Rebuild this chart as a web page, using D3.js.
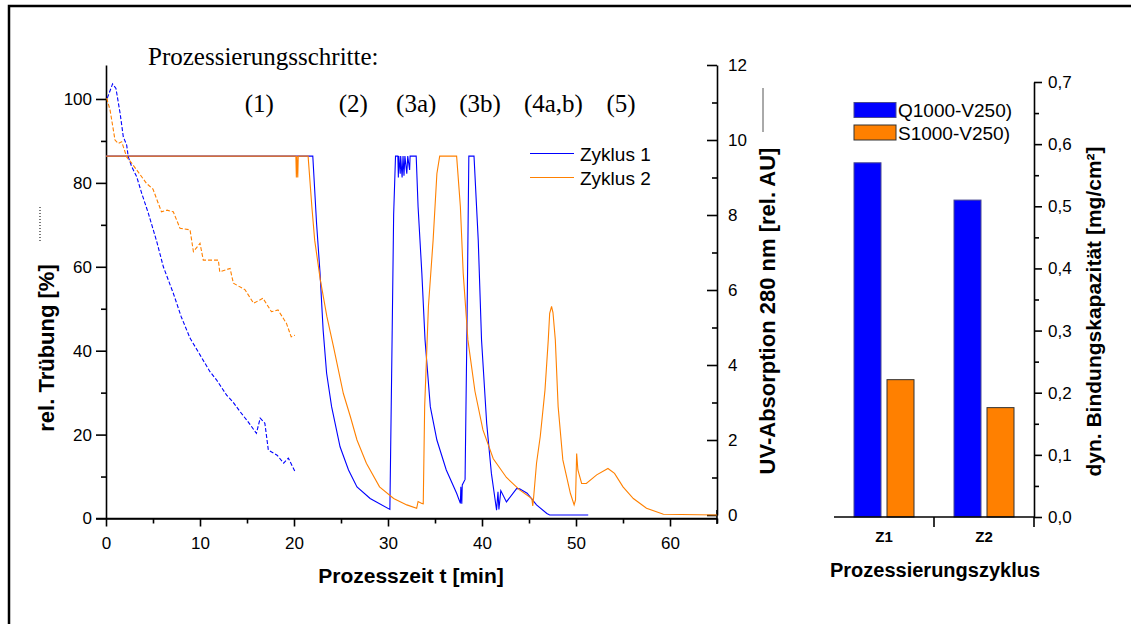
<!DOCTYPE html>
<html>
<head>
<meta charset="utf-8">
<script src="https://cdn.jsdelivr.net/npm/d3@7"></script>
<style>
  body { margin: 0; background: #fff; }
  svg { display: block; }
  .tick text { font-family: Arial, "Liberation Sans", sans-serif; }
</style>
</head>
<body>
<div id="plot"></div>
<script>
// Prozesszeit [min], UV-Absorption [rel. AU]
const uvZyklus1 = [
  [0, 9.57], [22.0, 9.57], [22.4, 7.78], [22.77, 6.45], [23.1, 4.93], [23.47, 3.78], [24.0, 2.89],
  [24.9, 1.82], [25.8, 1.2], [26.7, 0.75], [28.1, 0.44], [30.2, 0.15], [30.4, 4.0], [30.6, 8.0],
  [30.8, 9.57], [31.05, 9.57], [31.1, 9.0], [31.15, 9.57], [31.3, 9.1], [31.35, 9.57], [31.5, 9.0],
  [31.6, 9.57], [31.7, 9.05], [31.8, 9.57], [32.0, 9.1], [32.1, 9.57], [32.3, 9.2], [32.35, 9.57],
  [33.0, 9.57], [33.2, 8.22], [33.6, 6.45], [33.94, 4.67], [34.5, 2.89], [35.2, 2.0], [36.2, 1.2],
  [37.3, 0.58], [37.7, 0.31], [37.75, 0.75], [37.85, 0.3], [37.9, 0.8], [38.2, 0.95], [38.4, 5.0],
  [38.6, 9.57], [39.15, 9.57], [39.6, 7.33], [39.95, 4.67], [40.5, 2.44], [41.0, 1.11], [41.55, 0.13],
  [41.7, 0.62], [41.8, 0.15], [42.0, 0.65], [42.6, 0.35], [43.7, 0.71], [44.0, 0.7], [44.8, 0.58],
  [45.8, 0.27], [46.9, 0.04], [47.2, 0.0], [51.3, 0.0]
];
const uvZyklus2 = [
  [0, 9.57], [20.2, 9.57], [20.25, 9.0], [20.3, 9.57], [20.4, 9.0], [20.45, 9.57], [21.5, 9.57],
  [21.9, 8.22], [22.2, 7.33], [22.8, 6.27], [23.5, 5.29], [24.2, 4.49], [25.25, 3.24], [26.0, 2.62],
  [26.7, 2.0], [27.7, 1.38], [29.1, 0.75], [30.6, 0.44], [32.0, 0.27], [33.05, 0.18], [33.2, 0.36],
  [33.6, 0.31], [33.75, 0.3], [33.9, 2.89], [34.3, 5.56], [34.8, 7.33], [35.2, 9.1], [35.5, 9.57],
  [37.3, 9.57], [37.7, 8.22], [38.0, 6.45], [38.5, 4.67], [39.25, 3.3], [40.1, 2.27], [41.2, 1.5],
  [42.6, 1.0], [44.0, 0.67], [45.3, 0.44], [45.4, 0.24], [45.5, 0.49], [45.8, 1.38], [46.2, 2.1],
  [46.7, 3.33], [47.05, 4.67], [47.2, 5.38], [47.4, 5.56], [47.55, 5.4], [47.8, 4.67], [48.1, 2.89],
  [48.6, 1.47], [49.4, 0.58], [49.8, 0.27], [49.95, 0.4], [50.07, 1.64], [50.2, 1.2], [50.6, 0.84],
  [51.1, 0.84], [52.2, 1.07], [53.4, 1.24], [54.1, 1.11], [55.0, 0.75], [56.1, 0.44], [57.5, 0.18],
  [59.3, 0.02], [65, 0.0]
];
// Prozesszeit [min], rel. Trübung [%]
const truebungZyklus1 = [
  [0.14, 100.2], [0.7, 103.6], [1.06, 102.5], [1.5, 96.6], [1.84, 91], [2.2, 89], [2.37, 86.2],
  [2.73, 83.9], [3.26, 81.5], [3.8, 77.5], [4.5, 72.8], [5.4, 66], [6.1, 60], [7.16, 53.7],
  [8.0, 48.1], [8.94, 43], [10.0, 39], [11.06, 35], [11.77, 33], [12.83, 29.4], [13.5, 27.8],
  [14.25, 25.5], [15.1, 23.1], [16.0, 20.3], [16.4, 23.9], [16.9, 22.7], [17.27, 16.3], [18.2, 15.1],
  [18.9, 13.2], [19.4, 14.4], [20.1, 11.2]
];
const truebungZyklus2 = [
  [0.07, 100.2], [0.43, 97.4], [0.96, 90.2], [1.3, 89.4], [1.67, 89.8], [2.2, 86.2], [2.73, 84.7],
  [3.26, 83.1], [4.3, 79.9], [5.0, 78.5], [5.9, 73.1], [6.5, 73.5], [7.16, 73.1], [7.87, 69.2],
  [8.94, 68.8], [9.3, 63.6], [10.0, 65.6], [10.35, 61.6], [11.95, 61.6], [12.1, 58.8], [13.2, 59.6],
  [13.55, 56.1], [14.8, 54.5], [15.7, 51.3], [16.7, 52.5], [17.6, 49.3], [18.3, 49.7], [19.2, 46.5],
  [19.7, 43.3], [20.1, 43.7]
];

const schritte = ["(1)", "(2)", "(3a)", "(3b)", "(4a,b)", "(5)"];
const schritteZeit = [16.3, 26.3, 33.0, 39.8, 47.6, 54.8];

const xTicks = [0, 10, 20, 30, 40, 50, 60];
const xMinor = [5, 15, 25, 35, 45, 55, 65];
const yLeftTicks = [0, 20, 40, 60, 80, 100];
const yLeftMinor = [10, 30, 50, 70, 90];
const yRightTicks = [0, 2, 4, 6, 8, 10, 12];
const yRightMinor = [1, 3, 5, 7, 9, 11];

// Bindungskapazität
const zyklen = ["Z1", "Z2"];
const serien = ["Q1000-V250)", "S1000-V250)"];
const q1000 = [0.57, 0.51];
const s1000 = [0.221, 0.176];
const barTicks = [0, 0.1, 0.2, 0.3, 0.4, 0.5, 0.6, 0.7];
const barMinor = [0.05, 0.15, 0.25, 0.35, 0.45, 0.55, 0.65];

const blue = "#0000ff";
const orange = "#ff8000";
const sans = "Arial, 'Liberation Sans', sans-serif";
const serif = "'Times New Roman', 'Liberation Serif', serif";

const svg = d3.select("#plot").append("svg")
  .attr("width", 1131).attr("height", 624);

// frame
svg.append("path")
  .attr("d", "M9,624 V6 H1131")
  .attr("fill", "none").attr("stroke", "#000").attr("stroke-width", 2.5);

// ---------- left chart ----------
const x = d3.scaleLinear().domain([0, 65]).range([106, 717]);
const yL = d3.scaleLinear().domain([0, 108.1]).range([518.5, 65]);
const yR = d3.scaleLinear().domain([0, 12]).range([515, 65]);

function styleAxis(g) {
  g.selectAll("path, line").attr("stroke", "#000").attr("stroke-width", 1.6);
  g.selectAll("text").attr("font-size", 17).attr("fill", "#000");
}

svg.append("g").attr("transform", "translate(0,518.5)")
  .call(d3.axisBottom(x).tickValues(xTicks).tickSize(8).tickSizeOuter(0).tickPadding(10))
  .call(styleAxis);
svg.append("g").attr("transform", "translate(0,518.5)")
  .call(d3.axisBottom(x).tickValues(xMinor).tickSize(5).tickFormat(""))
  .call(g => g.select(".domain").remove())
  .call(styleAxis);
// extend x axis line to the left tick
svg.append("line").attr("x1", 96).attr("x2", 717).attr("y1", 518.5).attr("y2", 518.5)
  .attr("stroke", "#000").attr("stroke-width", 1.6);

svg.append("g").attr("transform", "translate(106,0)")
  .call(d3.axisLeft(yL).tickValues(yLeftTicks).tickSize(10).tickSizeOuter(0).tickPadding(4))
  .call(styleAxis);
svg.append("g").attr("transform", "translate(106,0)")
  .call(d3.axisLeft(yL).tickValues(yLeftMinor).tickSize(5).tickFormat(""))
  .call(g => g.select(".domain").remove())
  .call(styleAxis);

svg.append("g").attr("transform", "translate(717,0)")
  .call(d3.axisRight(yR).tickValues(yRightTicks).tickSize(-10).tickSizeOuter(0).tickPadding(11))
  .call(styleAxis);
svg.append("g").attr("transform", "translate(717,0)")
  .call(d3.axisRight(yR).tickValues(yRightMinor).tickSize(-5).tickFormat(""))
  .call(g => g.select(".domain").remove())
  .call(styleAxis);
// right axis reaches down to the x axis
svg.append("line").attr("x1", 717).attr("x2", 717).attr("y1", 510).attr("y2", 524)
  .attr("stroke", "#000").attr("stroke-width", 1.6);

const lineR = d3.line().x(d => x(d[0])).y(d => yR(d[1]));
const lineL = d3.line().x(d => x(d[0])).y(d => yL(d[1]));

svg.append("path").datum(uvZyklus1).attr("d", lineR)
  .attr("fill", "none").attr("stroke", blue).attr("stroke-width", 1.1);
svg.append("path").datum(uvZyklus2).attr("d", lineR)
  .attr("fill", "none").attr("stroke", orange).attr("stroke-width", 1.1);
svg.append("path").datum(truebungZyklus1).attr("d", lineL)
  .attr("fill", "none").attr("stroke", blue).attr("stroke-width", 1.1).attr("stroke-dasharray", "4,2");
svg.append("path").datum(truebungZyklus2).attr("d", lineL)
  .attr("fill", "none").attr("stroke", orange).attr("stroke-width", 1.1).attr("stroke-dasharray", "4,2");

// process step labels
svg.append("text").attr("x", 148).attr("y", 65)
  .attr("font-family", serif).attr("font-size", 25).text("Prozessierungsschritte:");
svg.selectAll(".schritt").data(schritte).enter().append("text")
  .attr("class", "schritt")
  .attr("x", (d, i) => x(schritteZeit[i])).attr("y", 112)
  .attr("text-anchor", "middle")
  .attr("font-family", serif).attr("font-size", 25).text(d => d);

// legend
const legend = [["Zyklus 1", blue], ["Zyklus 2", orange]];
legend.forEach((l, i) => {
  const ly = 153.5 + i * 24;
  svg.append("line").attr("x1", 530).attr("x2", 574).attr("y1", ly).attr("y2", ly)
    .attr("stroke", l[1]).attr("stroke-width", 1.2);
  svg.append("text").attr("x", 580).attr("y", ly + 7)
    .attr("font-family", sans).attr("font-size", 19).text(l[0]);
});

// axis titles
svg.append("text").attr("x", 411).attr("y", 583).attr("text-anchor", "middle")
  .attr("font-family", sans).attr("font-size", 21).attr("font-weight", "bold")
  .text("Prozesszeit t [min]");
svg.append("text").attr("transform", "translate(54,348) rotate(-90)").attr("text-anchor", "middle")
  .attr("font-family", sans).attr("font-size", 22).attr("font-weight", "bold")
  .text("rel. Trübung [%]");
svg.append("text").attr("transform", "translate(775,311) rotate(-90)").attr("text-anchor", "middle")
  .attr("font-family", sans).attr("font-size", 22).attr("font-weight", "bold")
  .text("UV-Absorption 280 nm [rel. AU]");
// line style keys next to the titles
svg.append("line").attr("x1", 40).attr("x2", 40).attr("y1", 207).attr("y2", 242)
  .attr("stroke", "#333").attr("stroke-width", 1.3).attr("stroke-dasharray", "1,2");
svg.append("line").attr("x1", 763).attr("x2", 763).attr("y1", 88).attr("y2", 132)
  .attr("stroke", "#555").attr("stroke-width", 1);

// ---------- right chart ----------
const xb = d3.scaleBand().domain(zyklen).range([834, 1034]);
const xs = d3.scaleBand().domain(serien).range([20, 80]).paddingInner(6 / 33);
const yb = d3.scaleLinear().domain([0, 0.7]).range([517, 82]);
const komma = d => d3.format(".1f")(d).replace(".", ",");

svg.append("g").attr("transform", "translate(1034,0)")
  .call(d3.axisRight(yb).tickValues(barTicks).tickSize(8).tickSizeOuter(0).tickPadding(6).tickFormat(komma))
  .call(styleAxis);
svg.append("g").attr("transform", "translate(1034,0)")
  .call(d3.axisRight(yb).tickValues(barMinor).tickSize(5).tickFormat(""))
  .call(g => g.select(".domain").remove())
  .call(styleAxis);

const barData = zyklen.map((z, i) => ({ z, werte: [q1000[i], s1000[i]] }));
const farben = [blue, orange];
const groups = svg.selectAll(".bar-group").data(barData).enter().append("g")
  .attr("class", "bar-group")
  .attr("transform", d => `translate(${xb(d.z)},0)`);
groups.selectAll("rect").data(d => d.werte.map((v, j) => ({ s: serien[j], v, j }))).enter()
  .append("rect")
  .attr("x", d => xs(d.s)).attr("width", xs.bandwidth())
  .attr("y", d => yb(d.v)).attr("height", d => yb(0) - yb(d.v))
  .attr("fill", d => farben[d.j])
  .attr("stroke", d => d.j === 0 ? "#4a4a90" : "#333").attr("stroke-width", 1);

// category axis
svg.append("line").attr("x1", 834).attr("x2", 1034).attr("y1", 517).attr("y2", 517)
  .attr("stroke", "#000").attr("stroke-width", 1.6);
[1, 2].forEach(k => {
  const bx = 834 + k * xb.step();
  svg.append("line").attr("x1", bx).attr("x2", bx).attr("y1", 517).attr("y2", 527)
    .attr("stroke", "#000").attr("stroke-width", 1.6);
});
svg.selectAll(".zlabel").data(zyklen).enter().append("text")
  .attr("class", "zlabel")
  .attr("x", d => xb(d) + xb.bandwidth() / 2).attr("y", 542)
  .attr("text-anchor", "middle")
  .attr("font-family", sans).attr("font-size", 15).attr("font-weight", "bold").text(d => d);

// bar legend
serien.forEach((s, i) => {
  const ly = 102.5 + i * 22.5;
  svg.append("rect").attr("x", 854).attr("y", ly).attr("width", 42).attr("height", 15)
    .attr("fill", farben[i]).attr("stroke", i === 0 ? "#4a4a90" : "#333").attr("stroke-width", 1);
  svg.append("text").attr("x", 898).attr("y", ly + 14.5)
    .attr("font-family", sans).attr("font-size", 19).text(s);
});

svg.append("text").attr("x", 935).attr("y", 577).attr("text-anchor", "middle")
  .attr("font-family", sans).attr("font-size", 20).attr("font-weight", "bold")
  .text("Prozessierungszyklus");
svg.append("text").attr("transform", "translate(1101,311.5) rotate(-90)").attr("text-anchor", "middle")
  .attr("font-family", sans).attr("font-size", 21).attr("font-weight", "bold")
  .text("dyn. Bindungskapazität [mg/cm²]");
</script>
</body>
</html>
